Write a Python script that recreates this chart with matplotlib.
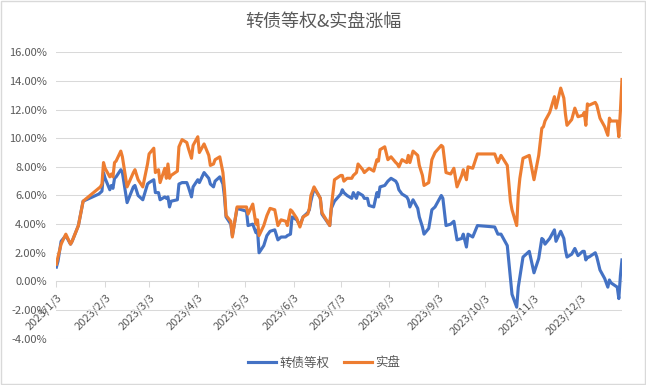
import pandas as pd
import matplotlib
matplotlib.use('Agg')
import matplotlib.pyplot as plt
from matplotlib.patches import Rectangle
from matplotlib.ticker import FuncFormatter, MultipleLocator

plt.rcParams['font.family'] = ['Noto Sans CJK SC', 'DejaVu Sans']

# --- data (percent) ---
dates = [
    "2023-01-03", "2023-01-04", "2023-01-06", "2023-01-09", "2023-01-12", "2023-01-13",
    "2023-01-17", "2023-01-20", "2023-01-30", "2023-01-31", "2023-02-01", "2023-02-02",
    "2023-02-03", "2023-02-06", "2023-02-07", "2023-02-08", "2023-02-09", "2023-02-10",
    "2023-02-13", "2023-02-14", "2023-02-17", "2023-02-21", "2023-02-22", "2023-02-24",
    "2023-02-27", "2023-03-02", "2023-03-03", "2023-03-06", "2023-03-07", "2023-03-09",
    "2023-03-10", "2023-03-13", "2023-03-14", "2023-03-15", "2023-03-16", "2023-03-17",
    "2023-03-21", "2023-03-22", "2023-03-24", "2023-03-27", "2023-03-28", "2023-03-30",
    "2023-03-31", "2023-04-03", "2023-04-04", "2023-04-07", "2023-04-10", "2023-04-11",
    "2023-04-13", "2023-04-14", "2023-04-17", "2023-04-19", "2023-04-20", "2023-04-21",
    "2023-04-24", "2023-04-25", "2023-04-28", "2023-05-04", "2023-05-05", "2023-05-08",
    "2023-05-10", "2023-05-11", "2023-05-12", "2023-05-15", "2023-05-17", "2023-05-19",
    "2023-05-22", "2023-05-24", "2023-05-26", "2023-05-29", "2023-05-30", "2023-06-01",
    "2023-06-02", "2023-06-05", "2023-06-07", "2023-06-09", "2023-06-12", "2023-06-13",
    "2023-06-14", "2023-06-16", "2023-06-19", "2023-06-20", "2023-06-21", "2023-06-26",
    "2023-06-27", "2023-06-29", "2023-07-03", "2023-07-04", "2023-07-05", "2023-07-07",
    "2023-07-10", "2023-07-11", "2023-07-13", "2023-07-14", "2023-07-17", "2023-07-18",
    "2023-07-20", "2023-07-21", "2023-07-24", "2023-07-26", "2023-07-27", "2023-07-28",
    "2023-07-31", "2023-08-02", "2023-08-04", "2023-08-07", "2023-08-08", "2023-08-09",
    "2023-08-11", "2023-08-14", "2023-08-15", "2023-08-16", "2023-08-18", "2023-08-21",
    "2023-08-22", "2023-08-24", "2023-08-25", "2023-08-28", "2023-08-30", "2023-09-01",
    "2023-09-05", "2023-09-06", "2023-09-08", "2023-09-11", "2023-09-13", "2023-09-15",
    "2023-09-18", "2023-09-19", "2023-09-21", "2023-09-22", "2023-09-25", "2023-09-28",
    "2023-10-09", "2023-10-11", "2023-10-13", "2023-10-17", "2023-10-19", "2023-10-20",
    "2023-10-23", "2023-10-24", "2023-10-25", "2023-10-27", "2023-10-31", "2023-11-03",
    "2023-11-06", "2023-11-08", "2023-11-09", "2023-11-10", "2023-11-13", "2023-11-16",
    "2023-11-17", "2023-11-20", "2023-11-22", "2023-11-23", "2023-11-24", "2023-11-27",
    "2023-11-29", "2023-12-01", "2023-12-04", "2023-12-05", "2023-12-06", "2023-12-07",
    "2023-12-08", "2023-12-12", "2023-12-13", "2023-12-15", "2023-12-18", "2023-12-20",
    "2023-12-21", "2023-12-22", "2023-12-26", "2023-12-27", "2023-12-28", "2023-12-29",
]

cb_equal = [
    1.0, 1.4, 2.8, 3.2, 2.6, 2.8, 3.9, 5.6, 6.1, 6.2, 6.3, 7.6,
    7.2, 6.4, 6.7, 6.5, 7.2, 7.3, 7.8, 7.6, 5.5, 6.6, 6.7, 6.0,
    5.7, 6.8, 6.9, 7.1, 6.2, 6.2, 5.7, 5.9, 5.8, 5.9, 5.2, 5.6,
    5.7, 6.8, 6.9, 6.9, 6.6, 5.9, 6.6, 7.1, 6.9, 7.6, 7.2, 6.8,
    6.6, 7.0, 7.3, 6.8, 5.9, 4.5, 4.0, 3.2, 5.1, 4.9, 3.9, 4.0,
    3.4, 3.6, 2.0, 2.5, 3.2, 3.5, 3.6, 2.9, 3.1, 3.1, 3.2, 3.3,
    4.5, 4.3, 3.9, 4.5, 4.8, 5.0, 5.6, 6.5, 6.0, 5.8, 4.7, 3.9,
    5.1, 5.6, 6.1, 6.4, 6.2, 6.0, 5.8, 6.2, 5.8, 6.2, 6.0, 5.8,
    5.8, 5.3, 5.2, 6.2, 5.9, 6.6, 6.7, 7.0, 7.2, 7.0, 6.8, 6.4,
    6.1, 5.9, 5.7, 5.2, 5.7, 5.1, 4.5, 3.8, 3.3, 3.7, 5.0, 5.2,
    6.0, 5.8, 3.9, 4.0, 4.2, 2.9, 3.0, 3.3, 2.4, 3.3, 3.1, 3.9,
    3.8, 3.3, 3.3, 2.5, 0.2, -0.9, -1.8, -0.4, 0.3, 1.7, 2.1, 0.6,
    1.6, 3.0, 2.9, 2.6, 3.0, 3.6, 2.8, 3.5, 3.0, 2.2, 1.7, 1.9,
    2.3, 1.8, 2.1, 2.1, 1.5, 1.7, 1.7, 2.0, 1.7, 0.8, 0.2, -0.4,
    0.1, -0.1, -0.4, -1.2, 0.4, 1.5,
]

live = [
    1.2, 1.7, 2.6, 3.3, 2.6, 2.8, 3.9, 5.6, 6.5, 6.6, 6.8, 8.3,
    7.9, 7.3, 7.5, 7.3, 8.3, 8.4, 9.1, 8.7, 6.6, 7.6, 7.8, 7.1,
    6.6, 8.2, 8.9, 9.3, 7.6, 7.8, 6.9, 7.9, 7.2, 8.2, 7.2, 7.4,
    7.7, 9.4, 9.9, 9.7, 9.3, 8.6, 9.5, 10.1, 9.0, 9.6, 8.8, 8.1,
    8.2, 8.5, 8.7, 7.6, 6.4, 4.6, 4.2, 3.1, 5.2, 5.2, 4.7, 5.4,
    4.0, 4.3, 3.2, 3.9, 4.6, 5.1, 5.0, 3.9, 4.3, 4.2, 3.9, 5.0,
    4.9, 4.4, 3.8, 4.5, 4.7, 5.1, 6.0, 6.6, 6.0, 5.8, 4.8, 3.9,
    5.2, 7.1, 7.4, 7.4, 7.0, 7.2, 7.2, 7.4, 7.6, 8.2, 7.8, 7.6,
    7.8, 7.9, 7.7, 8.5, 8.4, 9.2, 9.4, 8.5, 8.7, 8.3, 8.2, 8.0,
    8.5, 8.3, 8.8, 8.3, 9.1, 8.8, 8.1, 7.4, 6.7, 6.9, 8.5, 9.0,
    9.5, 9.4, 7.6, 7.5, 7.9, 6.6, 7.4, 7.8, 7.1, 8.0, 7.9, 8.9,
    8.9, 8.3, 8.8, 8.1, 5.6, 5.0, 3.9, 6.1, 7.2, 8.6, 8.8, 7.1,
    8.8, 10.7, 10.8, 11.2, 11.8, 12.9, 12.1, 13.5, 12.8, 11.7, 10.9, 11.3,
    12.1, 11.5, 11.6, 11.8, 10.9, 12.4, 12.3, 12.5, 12.3, 11.4, 10.8, 10.2,
    11.4, 11.2, 11.2, 10.1, 11.9, 14.1,
]

x = pd.to_datetime(dates)
month_ticks = pd.date_range("2023-01-03", "2023-12-03", freq=pd.DateOffset(months=1))
tick_labels = [f"{d.year}/{d.month}/{d.day}" for d in month_ticks]

text_color = '#595959'
grid_color = '#D9D9D9'

fig = plt.figure(figsize=(6.46, 3.85), dpi=100)
ax = fig.add_axes([0.0873, 0.1203, 0.8755, 0.7439])

ax.plot(x, cb_equal, color='#4472C4', lw=2.25, label='转债等权', solid_joinstyle='round', zorder=3)
ax.plot(x, live, color='#ED7D31', lw=2.25, label='实盘', solid_joinstyle='round', zorder=3)

# y axis
ax.set_ylim(-4, 16)
ax.yaxis.set_major_locator(MultipleLocator(2))
ax.yaxis.set_major_formatter(FuncFormatter(lambda v, p: f'{v:.2f}%'))
ax.grid(axis='y', color=grid_color, lw=0.75)
ax.set_axisbelow(True)
ax.tick_params(axis='y', length=0, pad=7, labelsize=8, labelcolor=text_color)

# x axis sits on the 0% line
for s in ax.spines.values():
    s.set_visible(False)
ax.spines['bottom'].set_visible(True)
ax.spines['bottom'].set_position(('data', 0))
ax.spines['bottom'].set_color(grid_color)
ax.spines['bottom'].set_linewidth(0.75)
ax.set_xlim(x[0], x[-1])
ax.set_xticks(month_ticks)
ax.set_xticklabels(tick_labels, rotation=45, ha='right', va='top', rotation_mode='anchor')
ax.tick_params(axis='x', direction='out', length=4, width=0.75, color=grid_color,
               pad=4, labelsize=8, labelcolor=text_color)

fig.text(0.5, 0.943, '转债等权&实盘涨幅', ha='center', va='center', fontsize=13, color=text_color)

leg = fig.legend(loc='center', bbox_to_anchor=(0.502, 0.057), ncol=2, frameon=False,
                 fontsize=9, handlelength=2.2, handletextpad=0.3, columnspacing=1.2)
for t in leg.get_texts():
    t.set_color(text_color)

fig.patches.append(Rectangle((0.001, 0.002), 0.997, 0.996, transform=fig.transFigure,
                             fill=False, ec=grid_color, lw=1))

fig.savefig('out.png', dpi=100)
